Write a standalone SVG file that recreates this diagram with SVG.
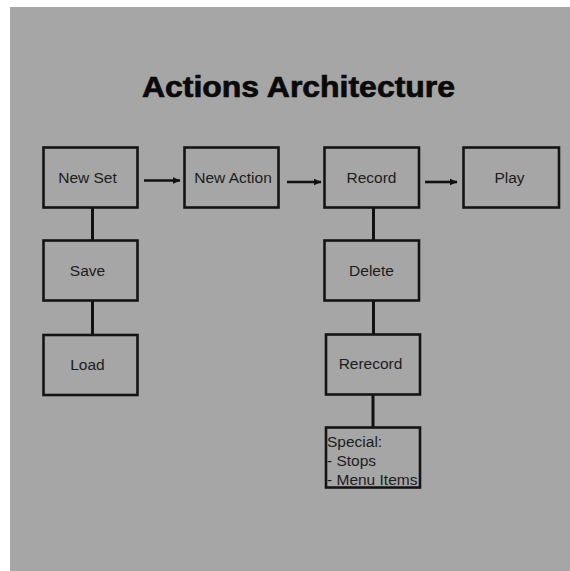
<svg xmlns="http://www.w3.org/2000/svg" width="570" height="571" viewBox="0 0 570 571">
  <defs>
    <marker id="ah" markerWidth="8" markerHeight="8" refX="7" refY="4" orient="auto" markerUnits="userSpaceOnUse">
      <path d="M0,0.8 L7.5,4 L0,7.2 Z" fill="#111"/>
    </marker>
    <style>
      .box { fill: none; stroke: #141414; stroke-width: 2.6; }
      .lbl { font-family: "Liberation Sans", Arial, sans-serif; font-size: 15.5px; fill: #1c1c1c; text-anchor: middle; }
      .lt { font-family: "Liberation Sans", Arial, sans-serif; font-size: 15.5px; fill: #1c1c1c; }
      .ln { stroke: #111; stroke-width: 3; fill: none; }
      .ar { stroke: #111; stroke-width: 2.6; fill: none; marker-end: url(#ah); }
    </style>
  </defs>
  <rect x="0" y="0" width="570" height="571" fill="#ffffff"/>
  <rect x="10" y="7" width="560" height="564" fill="#a6a6a6"/>
  <text x="298.5" y="97" text-anchor="middle" textLength="313" lengthAdjust="spacingAndGlyphs" font-family="'Liberation Sans', Arial, sans-serif" font-weight="bold" font-size="29" fill="#0a0a0a" stroke="#0a0a0a" stroke-width="0.7">Actions Architecture</text>

  <g id="connectors">
    <line class="ar" x1="144" y1="180.5" x2="180" y2="180.5"/>
    <line class="ar" x1="287" y1="182" x2="321" y2="182"/>
    <line class="ar" x1="425" y1="182" x2="457" y2="182"/>
    <line class="ln" x1="92.5" y1="207.5" x2="92.5" y2="240.5"/>
    <line class="ln" x1="92.5" y1="300.5" x2="92.5" y2="335"/>
    <line class="ln" x1="373.5" y1="207.5" x2="373.5" y2="240.5"/>
    <line class="ln" x1="373.5" y1="300.5" x2="373.5" y2="334.5"/>
    <line class="ln" x1="373" y1="394.5" x2="373" y2="427.5"/>
  </g>

  <g id="new-set">
    <rect class="box" x="43.5" y="147.5" width="94" height="60"/>
    <text class="lbl" x="87.5" y="182.5">New Set</text>
  </g>
  <g id="new-action">
    <rect class="box" x="184.5" y="147.5" width="94" height="60"/>
    <text class="lbl" x="233" y="182.5">New Action</text>
  </g>
  <g id="record">
    <rect class="box" x="324.5" y="147.5" width="94.5" height="60"/>
    <text class="lbl" x="371.5" y="182.5">Record</text>
  </g>
  <g id="play">
    <rect class="box" x="463.5" y="147.5" width="95.5" height="60"/>
    <text class="lbl" x="509.5" y="182.5">Play</text>
  </g>
  <g id="save">
    <rect class="box" x="43.5" y="240.5" width="94" height="60"/>
    <text class="lbl" x="87.5" y="275.5">Save</text>
  </g>
  <g id="load">
    <rect class="box" x="43.5" y="335" width="94" height="60"/>
    <text class="lbl" x="87.5" y="369.5">Load</text>
  </g>
  <g id="delete">
    <rect class="box" x="324.5" y="240.5" width="94.5" height="60"/>
    <text class="lbl" x="371.5" y="275.5">Delete</text>
  </g>
  <g id="rerecord">
    <rect class="box" x="326" y="334.5" width="94" height="60"/>
    <text class="lbl" x="370.5" y="368.5">Rerecord</text>
  </g>
  <g id="special">
    <rect class="box" x="326" y="427.5" width="94" height="60"/>
    <text class="lt" x="327" y="446.5">Special:</text>
    <text class="lt" x="327" y="465.5">- Stops</text>
    <text class="lt" x="327" y="484.5">- Menu Items</text>
  </g>
</svg>
